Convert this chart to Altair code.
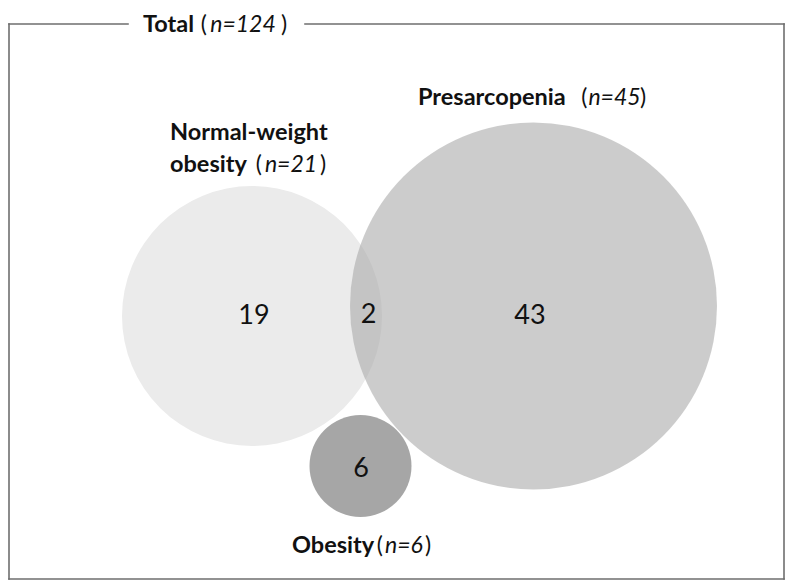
import altair as alt
import pandas as pd

# ---- data ----
set_names = ["Normal-weight obesity", "Presarcopenia", "Obesity"]
set_label_lines = [["Normal-weight", "obesity"], ["Presarcopenia"], ["Obesity"]]
set_n = [21, 45, 6]
total_label = "Total"
total_n = 124
region_counts = [19, 2, 43, 6]

# ---- layout (reference page pixels) ----
circle_cx = [252, 533.5, 360.5]
circle_cy = [316, 306, 466]
circle_r = [130, 183.5, 51]
circle_fill = ["#ebebeb", "#aaaaaa", "#a6a6a6"]
circle_opacity = [1.0, 0.6, 1.0]

region_x = [254, 368.5, 530, 361]
region_y = [324, 323, 324, 477]

# label pieces: bold-start x, baseline y, "(" right edge, italic centre, ")" left edge
title_pos = dict(bx=143, by=32, p1=207, it=243, p2=281)
set_label_pos = [
    dict(bx=170, by=[140, 172], p1=262, it=291, p2=320),
    dict(bx=418, by=[105], p1=587.5, it=614.5, p2=640),
    dict(bx=292, by=[553], p1=383, it=404, p2=425),
]

box = dict(left=9, right=784, top=24, bottom=579, gap_l=128, gap_r=305)

FONT = "Lato"
W, H = 777, 572
xs = alt.Scale(domain=[8, 8 + W], nice=False, zero=False)
ys = alt.Scale(domain=[8 + H, 8], nice=False, zero=False)


def X(f="x"):
    return alt.X(f, type="quantitative", scale=xs, axis=None)


def Y(f="y"):
    return alt.Y(f, type="quantitative", scale=ys, axis=None)


# circles
circles = pd.DataFrame({
    "set": set_names,
    "x": circle_cx,
    "y": circle_cy,
    "size": [(2 * r) ** 2 for r in circle_r],
    "fill": circle_fill,
    "op": circle_opacity,
    "z": [0, 1, 2],
})
circle_layer = alt.Chart(circles).mark_point(
    filled=True, shape="circle", strokeOpacity=0
).encode(
    x=X(), y=Y(),
    size=alt.Size("size:Q", scale=None, legend=None),
    color=alt.Color("fill:N", scale=None, legend=None),
    opacity=alt.Opacity("op:Q", scale=None, legend=None),
    order=alt.Order("z:Q"),
)

# region counts
regions = pd.DataFrame({"x": region_x, "y": region_y,
                        "t": [str(c) for c in region_counts]})
count_layer = alt.Chart(regions).mark_text(
    font=FONT, fontSize=27, color="#111111", align="center", baseline="alphabetic"
).encode(x=X(), y=Y(), text="t:N")

# labels
bold_rows, ital_rows, lpar_rows, rpar_rows = [], [], [], []
bold_rows.append({"x": title_pos["bx"], "y": title_pos["by"], "t": total_label})
ital_rows.append({"x": title_pos["it"], "y": title_pos["by"], "t": f"n={total_n}"})
lpar_rows.append({"x": title_pos["p1"], "y": title_pos["by"], "t": "("})
rpar_rows.append({"x": title_pos["p2"], "y": title_pos["by"], "t": ")"})
for lines, n, pos in zip(set_label_lines, set_n, set_label_pos):
    for line, by in zip(lines, pos["by"]):
        bold_rows.append({"x": pos["bx"], "y": by, "t": line})
    last_y = pos["by"][-1]
    ital_rows.append({"x": pos["it"], "y": last_y, "t": f"n={n}"})
    lpar_rows.append({"x": pos["p1"], "y": last_y, "t": "("})
    rpar_rows.append({"x": pos["p2"], "y": last_y, "t": ")"})

bold_layer = alt.Chart(pd.DataFrame(bold_rows)).mark_text(
    font=FONT, fontSize=23.5, fontWeight="bold", color="#111111",
    align="left", baseline="alphabetic"
).encode(x=X(), y=Y(), text="t:N")
ital_layer = alt.Chart(pd.DataFrame(ital_rows)).mark_text(
    font=FONT, fontSize=23, fontStyle="italic", color="#111111",
    align="center", baseline="alphabetic"
).encode(x=X(), y=Y(), text="t:N")
lpar_layer = alt.Chart(pd.DataFrame(lpar_rows)).mark_text(
    font=FONT, fontSize=23, color="#111111",
    align="right", baseline="alphabetic"
).encode(x=X(), y=Y(), text="t:N")
rpar_layer = alt.Chart(pd.DataFrame(rpar_rows)).mark_text(
    font=FONT, fontSize=23, color="#111111",
    align="left", baseline="alphabetic"
).encode(x=X(), y=Y(), text="t:N")

# frame
segs = pd.DataFrame([
    {"x": box["left"], "x2": box["left"], "y": box["top"], "y2": box["bottom"]},
    {"x": box["right"], "x2": box["right"], "y": box["top"], "y2": box["bottom"]},
    {"x": box["left"], "x2": box["right"], "y": box["bottom"], "y2": box["bottom"]},
    {"x": box["left"], "x2": box["gap_l"], "y": box["top"], "y2": box["top"]},
    {"x": box["gap_r"], "x2": box["right"], "y": box["top"], "y2": box["top"]},
])
frame_layer = alt.Chart(segs).mark_rule(
    color="#6e6e6e", strokeWidth=1.6, strokeCap="square"
).encode(x=X(), x2="x2:Q", y=Y(), y2="y2:Q")

chart = alt.layer(
    circle_layer, count_layer, frame_layer, bold_layer, ital_layer,
    lpar_layer, rpar_layer
).properties(
    width=W, height=H, padding=0, autosize="none"
).configure_view(stroke=None)

chart.save("out.html", embed_options={"renderer": "svg", "actions": False})
